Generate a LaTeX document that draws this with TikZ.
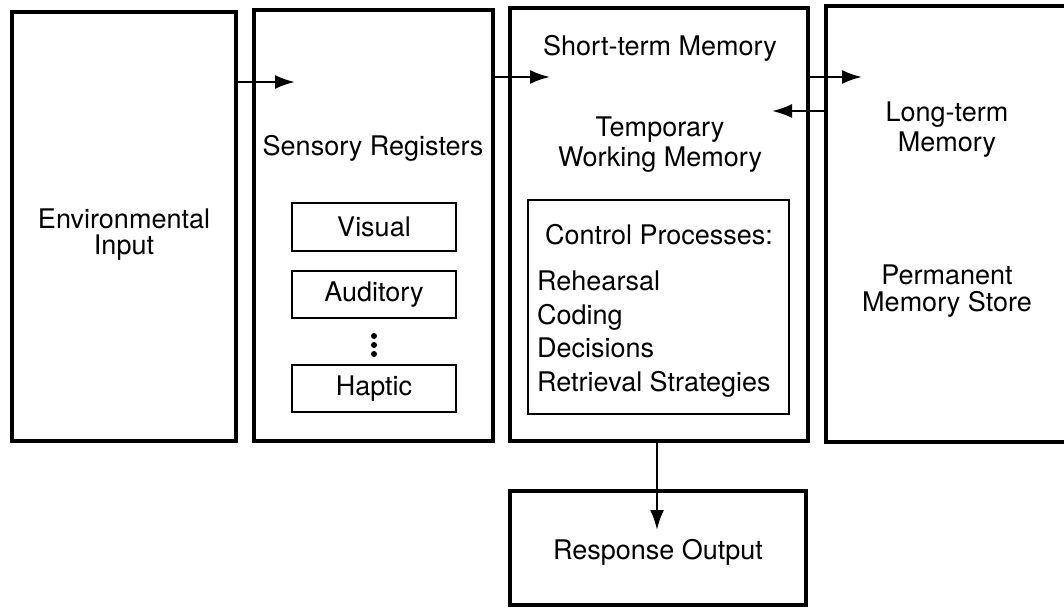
\documentclass[tikz,border=0pt]{standalone}
\usepackage{fontspec}
\setmainfont{TeX Gyre Heros}
\usetikzlibrary{arrows.meta,calc}

\begin{document}
\begin{tikzpicture}[x=1pt,y=-1pt,
  outerbox/.style={draw,line width=3.6pt,inner sep=0pt,outer sep=0pt},
  innerbox/.style={draw,line width=2.2pt,inner sep=0pt,outer sep=0pt,font=\fontsize{27}{30}\selectfont},
  lbl/.style={align=center,inner sep=0pt,font=\fontsize{27}{30}\selectfont},
  arr/.style={line width=2.4pt,-{Latex[length=20pt,width=14pt]}}]
\useasboundingbox (0,0) rectangle (1064,609);

\node[outerbox,minimum width=224pt,minimum height=429pt] (env) at (124,226.5) {};
\node[outerbox,minimum width=239pt,minimum height=431pt] (sens) at (373.5,225.5) {};
\node[outerbox,minimum width=298pt,minimum height=433pt] (stm) at (659,224.5) {};
\node[outerbox,minimum width=264pt,minimum height=436pt] (ltm) at (958,224) {};
\node[outerbox,minimum width=296pt,minimum height=114pt] (resp) at (658,548) {};

\node[lbl,font=\fontsize{27}{26}\selectfont] (envlbl) at (124,235) {Environmental\\Input};
\node[lbl] (senslbl) at (373,148) {Sensory Registers};
\node[lbl] (stmlbl) at (660,48) {Short-term Memory};
\node[lbl] (twmlbl) at (660,145) {Temporary\\Working Memory};
\node[lbl,font=\fontsize{27}{30}\selectfont] (ltmlbl) at (947,130) {Long-term\\Memory};
\node[lbl,font=\fontsize{27}{27}\selectfont] (pmslbl) at (947,291) {Permanent\\Memory Store};
\node[lbl] (resplbl) at (658,552) {Response Output};

\node[innerbox,minimum width=164pt,minimum height=48pt] (vis) at (374,227) {Visual};
\node[innerbox,minimum width=164pt,minimum height=47pt] (aud) at (374,294.5) {Auditory};
\node[innerbox,minimum width=164pt,minimum height=47pt] (hap) at (374,388.5) {Haptic};
\foreach \y in {336,345,354}
  \fill (374,\y) circle (3pt);

\node[innerbox,minimum width=261pt,minimum height=214pt] (ctrl) at (658.5,307) {};
\node[lbl] (ctrllbl) at (659,235) {Control Processes:};
\node[lbl,align=left,anchor=west,font=\fontsize{27}{33.7}\selectfont] (ctrllist) at (537,334)
  {Rehearsal\\Coding\\Decisions\\Retrieval Strategies};

\coordinate (t1) at (295,82);
\coordinate (t2) at (550,77);
\coordinate (t3) at (862,77);
\coordinate (t4) at (772,111);
\coordinate (t5) at (657,530);
\draw[arr] (env.east |- t1) -- (t1);
\draw[arr] (sens.east |- t2) -- (t2);
\draw[arr] (stm.east |- t3) -- (t3);
\draw[arr] (ltm.west |- t4) -- (t4);
\draw[arr] (stm.south -| t5) -- (t5);

\end{tikzpicture}
\end{document}
